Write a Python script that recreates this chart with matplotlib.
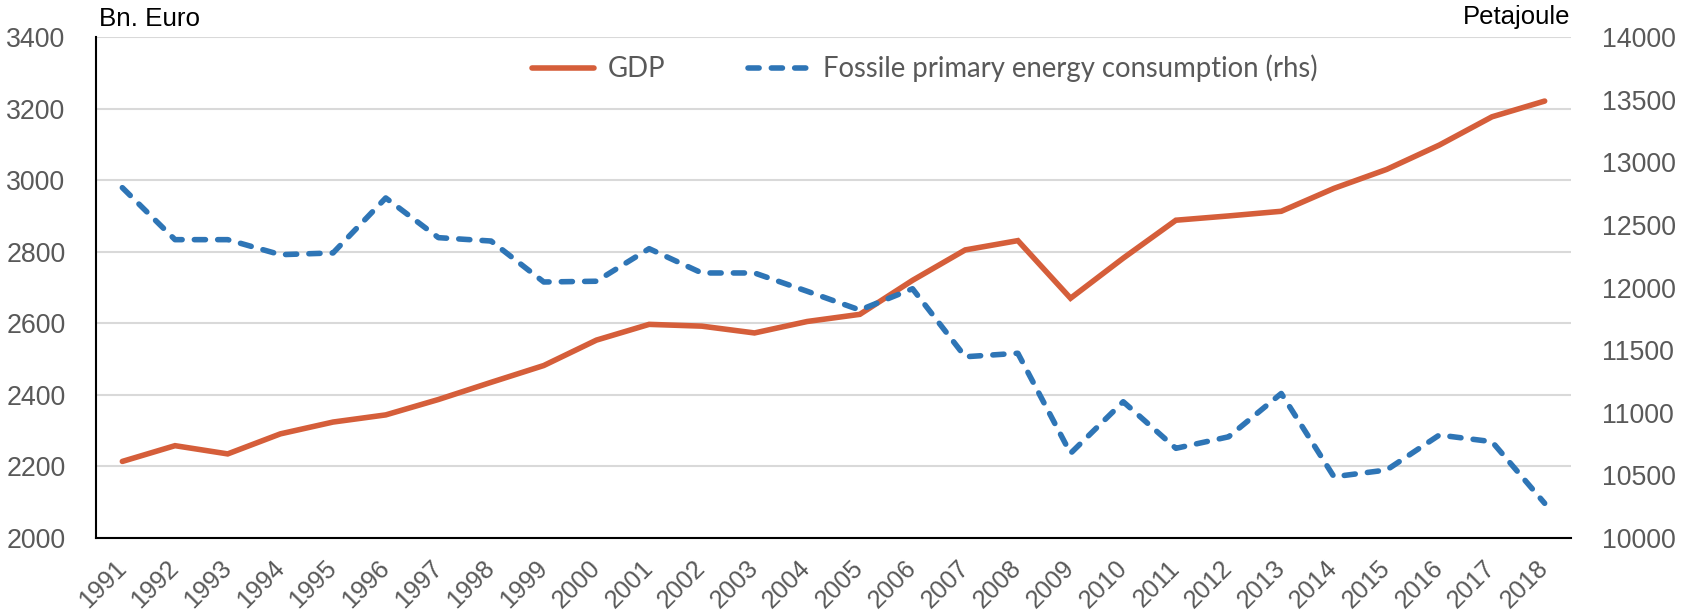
import matplotlib.pyplot as plt
import numpy as np

# Data
years = [str(y) for y in range(1991, 2019)]
gdp = [2214, 2258, 2235, 2291, 2324, 2344, 2387, 2435, 2482, 2553,
       2597, 2592, 2573, 2605, 2625, 2720, 2805, 2831, 2670, 2782,
       2888, 2900, 2913, 2977, 3030, 3098, 3177, 3221]
fossil = [12797, 12382, 12382, 12262, 12276, 12715, 12398, 12371, 12044, 12050,
          12310, 12116, 12116, 11970, 11820, 11990, 11447, 11475, 10676, 11088,
          10716, 10808, 11154, 10489, 10543, 10822, 10769, 10277]
left_ticks = list(range(2000, 3401, 200))
right_ticks = list(range(10000, 14001, 500))

orange = "#D55E3A"
blue = "#2E75B6"
gray = "#595959"
tick_font = "Liberation Sans"

fig = plt.figure(figsize=(16.82, 6.14), dpi=100)
ax = fig.add_axes([96 / 1682, 1 - 538 / 614, 1475 / 1682, 501 / 614])
ax2 = ax.twinx()

x = np.arange(len(years))
l1, = ax.plot(x, gdp, color=orange, lw=4, solid_capstyle="round",
              solid_joinstyle="miter", label="GDP", zorder=3)
l2, = ax2.plot(x, fossil, color=blue, lw=4, dashes=(2, 2.2),
               dash_capstyle="round", label="Fossile primary energy consumption (rhs)",
               zorder=3)

ax.set_xlim(-0.5, len(years) - 0.5)
ax.set_ylim(2000, 3400)
ax2.set_ylim(10000, 14000)
ax.set_yticks(left_ticks)
ax2.set_yticks(right_ticks)
ax.set_xticks(x)
ax.set_xticklabels(years, rotation=45, ha="right", va="center",
                   rotation_mode="anchor")

ax.yaxis.grid(True, color="#D9D9D9", lw=1.5)
ax.set_axisbelow(True)
ax.tick_params(axis="y", length=0, labelsize=19.3, labelcolor=gray, pad=22)
ax.tick_params(axis="x", length=0, labelsize=18.2, labelcolor=gray, pad=19)
ax2.tick_params(axis="y", length=0, labelsize=19.3, labelcolor=gray, pad=22)
for lab in ax.get_xticklabels() + ax.get_yticklabels() + ax2.get_yticklabels():
    lab.set_family(tick_font)

for s in ["top", "right"]:
    ax.spines[s].set_visible(False)
for s in ax2.spines.values():
    s.set_visible(False)
ax.spines["left"].set_linewidth(1.5)
ax.spines["bottom"].set_linewidth(1.5)

fig.text(99 / 1682, 1 - 19 / 614, "Bn. Euro", fontsize=18.7, family=tick_font,
         ha="left", va="center", color="black")
fig.text(1570 / 1682, 1 - 17 / 614, "Petajoule", fontsize=18.5, family=tick_font,
         ha="right", va="center", color="black")

leg = ax.legend([l1, l2], [l1.get_label(), l2.get_label()], loc="center",
                bbox_to_anchor=(0.562, 0.937), ncol=2, frameon=False,
                handlelength=2.25, handletextpad=0.5, columnspacing=3.0,
                prop={"family": "Lato", "size": 19.8})
for t in leg.get_texts():
    t.set_color(gray)

fig.savefig("out.png", dpi=100)
